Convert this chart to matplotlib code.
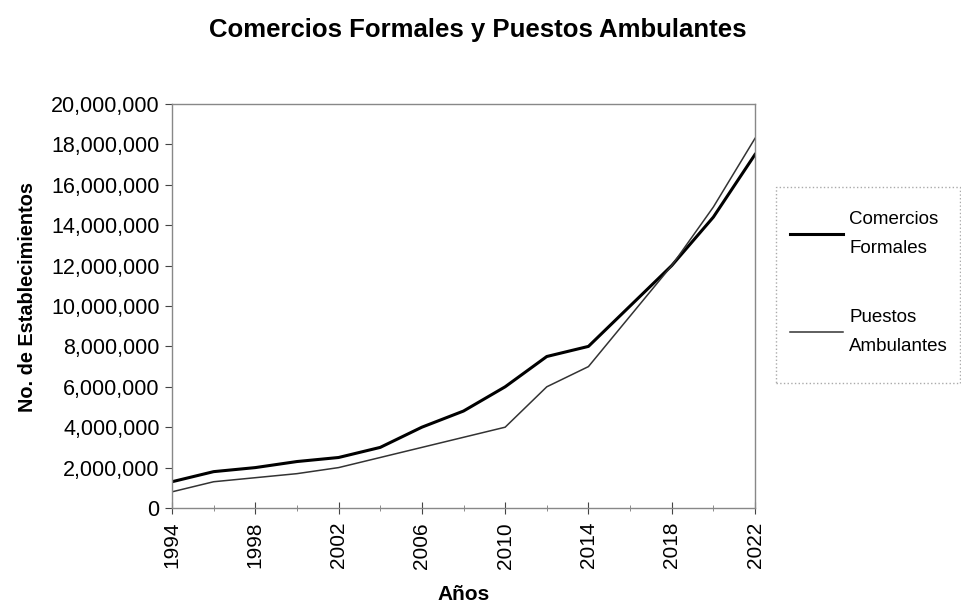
import matplotlib
matplotlib.use("Agg")
import matplotlib.pyplot as plt
from matplotlib.ticker import FuncFormatter, MultipleLocator
from matplotlib.patches import Rectangle

plt.rcParams['font.family'] = ['Liberation Sans', 'DejaVu Sans']

years = [1994, 1996, 1998, 2000, 2002, 2004, 2006, 2008, 2010, 2012, 2014, 2016, 2018, 2020, 2022]
comercios = [1.3e6, 1.8e6, 2.0e6, 2.3e6, 2.5e6, 3.0e6, 4.0e6, 4.8e6, 6.0e6, 7.5e6, 8.0e6, 10.0e6, 12.0e6, 14.4e6, 17.5e6]
puestos = [0.8e6, 1.3e6, 1.5e6, 1.7e6, 2.0e6, 2.5e6, 3.0e6, 3.5e6, 4.0e6, 6.0e6, 7.0e6, 9.5e6, 12.0e6, 14.9e6, 18.3e6]
labels = ["Comercios\nFormales", "Puestos\nAmbulantes"]

fig = plt.figure(figsize=(9.61, 6.05), dpi=100)
ax = fig.add_axes([172/961, 1 - 508/605, (755-172)/961, (508-104)/605])

ax.plot(years, comercios, color='black', lw=2.2, label=labels[0])
ax.plot(years, puestos, color='#333333', lw=1.1, label=labels[1])

ax.set_xlim(1994, 2022)
ax.set_ylim(0, 20e6)
ax.set_xticks(list(range(1994, 2023, 4)))
ax.set_xticks(years, minor=True)
ax.yaxis.set_major_locator(MultipleLocator(2e6))
ax.yaxis.set_major_formatter(FuncFormatter(lambda v, p: f"{int(v):,}"))

ax.tick_params(axis='x', which='major', direction='inout', length=8, width=0.8,
               labelsize=15, labelrotation=90, pad=6, color='#444444')
ax.tick_params(axis='x', which='minor', direction='inout', length=4, width=0.6, color='#777777')
ax.tick_params(axis='y', which='major', direction='out', length=5, width=0.8,
               labelsize=15.5, pad=4, color='#444444')

for s in ax.spines.values():
    s.set_color('#888888')
    s.set_linewidth(1.0)

ax.set_xlabel("Años", fontsize=15, fontweight='bold', labelpad=12)
ax.set_ylabel("No. de Establecimientos", fontsize=14.3, fontweight='bold')
ax.yaxis.set_label_coords(-0.232, 0.522)

fig.text(478/961, 1 - 30/605, "Comercios Formales y Puestos Ambulantes",
         ha='center', va='center', fontsize=18.5, fontweight='bold')

# legend box (dotted gray frame)
fig.add_artist(Rectangle((776/961, 1 - 383/605), (960 - 776)/961, (383 - 187)/605,
                         transform=fig.transFigure, fill=False, edgecolor='#aaaaaa',
                         linestyle=':', linewidth=1.0))

leg = fig.legend(loc='upper left', bbox_to_anchor=(790/961, 1 - 211/605),
                 fontsize=13.5, frameon=False, handlelength=2.8,
                 handletextpad=0.35, labelspacing=2.8, borderpad=0,
                 borderaxespad=0)
for t in leg.get_texts():
    t.set_linespacing(1.9)

fig.savefig("out.png", dpi=100)
